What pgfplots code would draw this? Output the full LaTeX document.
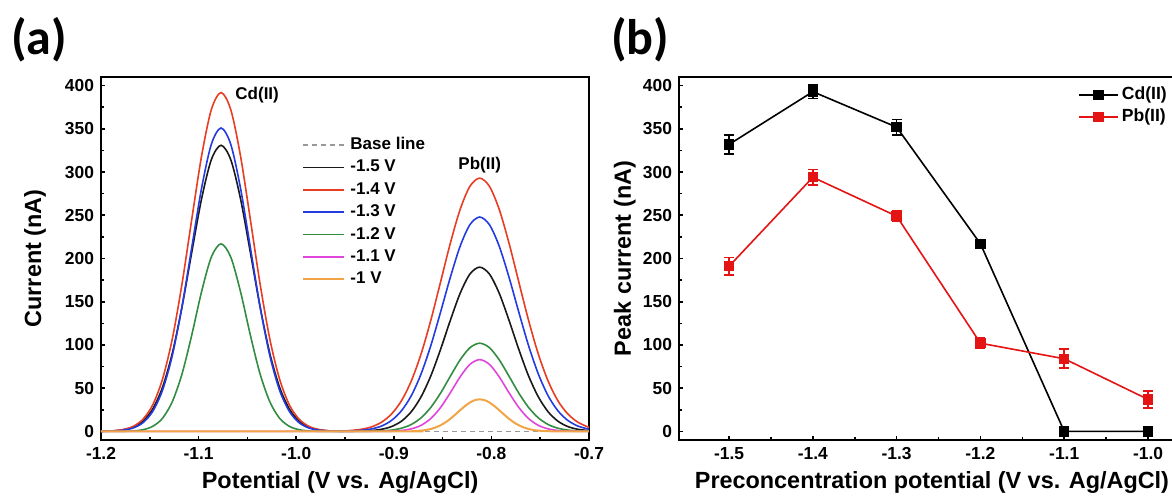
\documentclass[border=0pt]{standalone}
\usepackage{fontspec}
\setmainfont{Liberation Sans}
\newfontfamily\panelfont{Carlito}
\usepackage{pgfplots}
\pgfplotsset{compat=1.18}

\definecolor{cblack}{RGB}{25,25,25}
\definecolor{cred}{RGB}{232,60,35}
\definecolor{cblue}{RGB}{35,60,225}
\definecolor{cgreen}{RGB}{50,140,65}
\definecolor{cmag}{RGB}{225,70,220}
\definecolor{corange}{RGB}{242,165,70}
\definecolor{bred}{RGB}{228,20,20}

\newcommand{\lblfont}{\bfseries\fontsize{11.7}{14}\selectfont}

\pgfplotsset{
  myaxis/.style={
    scale only axis,
    anchor=south west,
    axis line style={line width=0.9pt},
    tick align=inside,
    xtick pos=lower, ytick pos=lower,
    major tick length=2.2pt, minor tick length=1.5pt,
    every tick/.append style={line width=0.8pt, black},
    minor x tick num=1, minor y tick num=1,
    ymin=-10, ymax=410,
    ytick={0,50,...,400},
    yticklabels={0,50,100,150,200,250,300,350,400},
    ticklabel style={font=\bfseries\fontsize{8.7}{10}\selectfont},
    legend cell align=left,
  }
}

\begin{document}
\begin{tikzpicture}
% ---------------- (a) ----------------
\begin{axis}[myaxis, at={(50.5pt,28.5pt)}, width=244pt, height=181.5pt,
  xmin=-1.2, xmax=-0.7,
  xtick={-1.2,-1.1,-1.0,-0.9,-0.8,-0.7},
  xticklabels={-1.2,-1.1,-1.0,-0.9,-0.8,-0.7},
  xlabel={Potential (V vs. Ag/AgCl)},
  ylabel={Current (nA)},
  every axis x label/.style={at={(axis description cs:0.49,-0.118)},anchor=center,font=\lblfont},
  every axis y label/.style={at={(axis description cs:-0.135,0.5)},rotate=90,anchor=center,font=\lblfont},
  legend style={draw=none, fill=none, at={(0.412,0.836)}, anchor=north west,
    inner sep=0pt, font=\bfseries\fontsize{8.5}{10}\selectfont, row sep=3.2pt,
    nodes={inner sep=0pt, text height=6.3pt, text depth=1.7pt},
    /tikz/every odd column/.append style={column sep=2.5pt}},
  legend image code/.code={\draw[#1] (0pt,0pt) -- (20.5pt,0pt);},
]
\addplot[gray!80, dash pattern=on 2.5pt off 2pt, line width=0.8pt] coordinates {(-1.2,0) (-0.7,0)};
\addlegendentry{Base line}
\addplot[cblack, line width=0.8pt, smooth] coordinates {
(-1.2,0) (-1.197,0.2) (-1.187,0.6) (-1.177,1.8) (-1.167,4.9) (-1.157,11.8) (-1.147,25.9) (-1.137,50.9) (-1.127,90.1) (-1.117,144.0) (-1.107,207.2) (-1.097,268.8) (-1.087,314.2) (-1.077,331) (-1.067,314.2) (-1.057,268.8) (-1.047,207.2) (-1.037,144.0) (-1.027,90.1) (-1.017,50.9) (-1.007,25.9) (-0.997,11.8) (-0.987,4.9) (-0.977,1.8) (-0.967,0.6) (-0.957,0.2) (-0.945,0.1) (-0.932,0.4) (-0.922,1.0) (-0.912,2.5) (-0.902,5.7) (-0.892,11.9) (-0.882,22.8) (-0.872,40.1) (-0.862,64.4) (-0.852,95.1) (-0.842,128.7) (-0.832,159.8) (-0.822,182.0) (-0.812,190) (-0.802,182.0) (-0.792,159.8) (-0.782,128.7) (-0.772,95.1) (-0.762,64.4) (-0.752,40.1) (-0.742,22.8) (-0.732,11.9) (-0.722,5.7) (-0.712,2.5) (-0.702,1.0) (-0.7,0.8)};
\addlegendentry{-1.5 V}
\addplot[cred, line width=0.8pt, smooth] coordinates {
(-1.2,0.1) (-1.197,0.2) (-1.187,0.7) (-1.177,2.2) (-1.167,5.8) (-1.157,14.0) (-1.147,30.6) (-1.137,60.3) (-1.127,106.7) (-1.117,170.5) (-1.107,245.4) (-1.097,318.3) (-1.087,372.1) (-1.077,392) (-1.067,372.1) (-1.057,318.3) (-1.047,245.4) (-1.037,170.5) (-1.027,106.7) (-1.017,60.3) (-1.007,30.6) (-0.997,14.0) (-0.987,5.8) (-0.977,2.2) (-0.967,0.7) (-0.957,0.2) (-0.945,0.9) (-0.932,2.6) (-0.922,5.5) (-0.912,11.0) (-0.902,20.5) (-0.892,35.7) (-0.882,58.5) (-0.872,89.7) (-0.862,128.8) (-0.852,173.2) (-0.842,218.0) (-0.832,256.9) (-0.822,283.5) (-0.812,293) (-0.802,283.5) (-0.792,256.9) (-0.782,218.0) (-0.772,173.2) (-0.762,128.8) (-0.752,89.7) (-0.742,58.5) (-0.732,35.7) (-0.722,20.5) (-0.712,11.0) (-0.702,5.5) (-0.7,4.7)};
\addlegendentry{-1.4 V}
\addplot[cblue, line width=0.8pt, smooth] coordinates {
(-1.2,0) (-1.197,0.1) (-1.187,0.4) (-1.177,1.4) (-1.167,3.9) (-1.157,10.0) (-1.147,23.1) (-1.137,47.5) (-1.127,87.5) (-1.117,144.3) (-1.107,212.9) (-1.097,281.0) (-1.087,332.0) (-1.077,351) (-1.067,332.0) (-1.057,281.0) (-1.047,212.9) (-1.037,144.3) (-1.027,87.5) (-1.017,47.5) (-1.007,23.1) (-0.997,10.0) (-0.987,3.9) (-0.977,1.4) (-0.967,0.4) (-0.957,0.1) (-0.945,0.4) (-0.932,1.3) (-0.922,3.0) (-0.912,6.4) (-0.902,12.9) (-0.892,24.0) (-0.882,41.4) (-0.872,66.6) (-0.862,99.5) (-0.852,138.3) (-0.842,178.5) (-0.832,214.3) (-0.822,239.1) (-0.812,248) (-0.802,239.1) (-0.792,214.3) (-0.782,178.5) (-0.772,138.3) (-0.762,99.5) (-0.752,66.6) (-0.742,41.4) (-0.732,24.0) (-0.722,12.9) (-0.712,6.4) (-0.702,3.0) (-0.7,2.5)};
\addlegendentry{-1.3 V}
\addplot[cgreen, line width=0.8pt, smooth] coordinates {
(-1.2,0) (-1.187,0) (-1.177,0.1) (-1.167,0.5) (-1.157,1.9) (-1.147,5.8) (-1.137,15.1) (-1.127,34.2) (-1.117,66.4) (-1.107,111.5) (-1.097,161.4) (-1.087,201.5) (-1.077,217) (-1.067,201.5) (-1.057,161.4) (-1.047,111.5) (-1.037,66.4) (-1.027,34.2) (-1.017,15.1) (-1.007,5.8) (-0.997,1.9) (-0.987,0.5) (-0.977,0.1) (-0.967,0) (-0.945,0) (-0.932,0.1) (-0.922,0.2) (-0.912,0.6) (-0.902,1.5) (-0.892,3.7) (-0.882,8.0) (-0.872,15.7) (-0.862,27.8) (-0.852,44.4) (-0.842,63.9) (-0.832,82.8) (-0.822,96.8) (-0.812,102) (-0.802,96.8) (-0.792,82.8) (-0.782,63.9) (-0.772,44.4) (-0.762,27.8) (-0.752,15.7) (-0.742,8.0) (-0.732,3.7) (-0.722,1.5) (-0.712,0.6) (-0.702,0.2) (-0.7,0.1)};
\addlegendentry{-1.2 V}
\addplot[cmag, line width=0.8pt, smooth] coordinates {
(-1.2,0) (-0.922,0) (-0.912,0.1) (-0.902,0.3) (-0.892,1.0) (-0.882,2.9) (-0.872,7.0) (-0.862,14.9) (-0.852,27.7) (-0.842,44.8) (-0.832,63.1) (-0.822,77.5) (-0.812,83) (-0.802,77.5) (-0.792,63.1) (-0.782,44.8) (-0.772,27.7) (-0.762,14.9) (-0.752,7.0) (-0.742,2.9) (-0.732,1.0) (-0.722,0.3) (-0.712,0.1) (-0.702,0) (-0.7,0)};
\addlegendentry{-1.1 V}
\addplot[corange, line width=1pt, smooth] coordinates {
(-1.2,0) (-0.892,0) (-0.882,0.2) (-0.877,0.5) (-0.872,0.9) (-0.867,1.6) (-0.862,2.8) (-0.857,4.6) (-0.852,7.1) (-0.847,10.4) (-0.842,14.6) (-0.837,19.4) (-0.832,24.5) (-0.827,29.3) (-0.822,33.4) (-0.817,36.1) (-0.812,37) (-0.807,36.1) (-0.802,33.4) (-0.797,29.3) (-0.792,24.5) (-0.787,19.4) (-0.782,14.6) (-0.777,10.4) (-0.772,7.1) (-0.767,4.6) (-0.762,2.8) (-0.757,1.6) (-0.752,0.9) (-0.747,0.5) (-0.742,0.2) (-0.732,0) (-0.7,0)};
\addlegendentry{-1 V}
\node[font=\bfseries\fontsize{8.5}{10}\selectfont] at (axis cs:-1.040,389) {Cd(II)};
\node[font=\bfseries\fontsize{8.5}{10}\selectfont] at (axis cs:-0.812,308) {Pb(II)};
\end{axis}
% ---------------- (b) ----------------
\begin{axis}[myaxis, at={(339.5pt,28.5pt)}, width=248pt, height=181.5pt,
  xmin=-1.5597, xmax=-0.9678,
  xtick={-1.5,-1.4,-1.3,-1.2,-1.1,-1.0},
  xticklabels={-1.5,-1.4,-1.3,-1.2,-1.1,-1.0},
  xlabel={Preconcentration potential (V vs. Ag/AgCl)},
  ylabel={Peak current (nA)},
  every axis x label/.style={at={(axis description cs:0.51,-0.118)},anchor=center,font=\lblfont},
  every axis y label/.style={at={(axis description cs:-0.109,0.5)},rotate=90,anchor=center,font=\lblfont},
  legend style={draw=none, fill=none, at={(0.804,0.974)}, anchor=north west,
    inner sep=0pt, font=\bfseries\fontsize{8.8}{10}\selectfont, row sep=2.8pt,
    nodes={inner sep=0pt, text height=6.5pt, text depth=1.7pt},
    /tikz/every odd column/.append style={column sep=1.5pt}},
  legend image code/.code={\draw[#1, mark repeat=2, mark phase=2] plot coordinates {(0pt,0pt) (9.75pt,0pt) (19.5pt,0pt)};},
]
\addplot[black, line width=0.8pt, mark=square*, mark size=2.2pt,
  error bars/.cd, y dir=both, y explicit, error mark=|,
  error bar style={line width=0.8pt, solid},
  error mark options={line width=0.8pt, mark size=2.5pt}]
  coordinates {(-1.5,332) +- (0,11) (-1.4,393) +- (0,8) (-1.3,352) +- (0,9) (-1.2,217) +- (0,5) (-1.1,0) +- (0,0) (-1.0,0) +- (0,0)};
\addlegendentry{Cd(II)}
\addplot[bred, line width=0.8pt, mark=square*, mark size=2.2pt,
  error bars/.cd, y dir=both, y explicit, error mark=|,
  error bar style={line width=0.8pt, solid},
  error mark options={line width=0.8pt, mark size=2.5pt}]
  coordinates {(-1.5,191) +- (0,10) (-1.4,294) +- (0,9) (-1.3,249) +- (0,6) (-1.2,102) +- (0,6) (-1.1,84) +- (0,11) (-1.0,37) +- (0,10)};
\addlegendentry{Pb(II)}
\end{axis}
\node[font=\panelfont\bfseries\fontsize{25}{30}\selectfont] at (19.5pt,228.5pt) {(a)};
\node[font=\panelfont\bfseries\fontsize{25}{30}\selectfont] at (320pt,228.5pt) {(b)};
\pgfresetboundingbox
\useasboundingbox (0,0) rectangle (586pt,248.5pt);
\end{tikzpicture}
\end{document}
